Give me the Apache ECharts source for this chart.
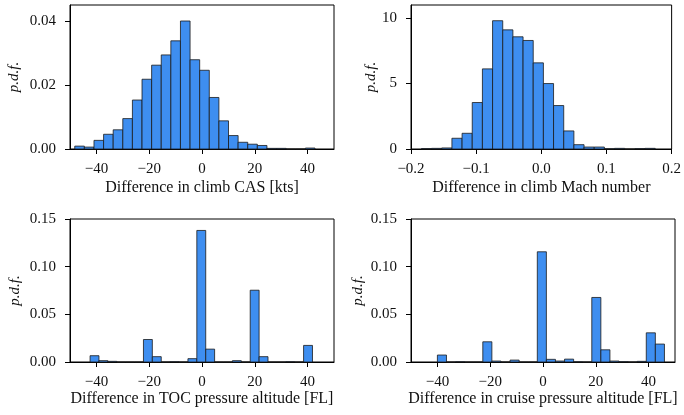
<!DOCTYPE html>
<html>
<head>
<meta charset="utf-8">
<script src="https://cdn.jsdelivr.net/npm/echarts@6/dist/echarts.min.js"></script>
<style>
  html, body { margin: 0; padding: 0; background: #fff; }
  #main { width: 684px; height: 415px; }
</style>
</head>
<body>
<div id="main"></div>
<script>
// histogram bins: first edge, bin width, density per bin
var casStart = -48.2, casWidth = 3.64;
var casVals = [0.0009, 0.0006, 0.0027, 0.0046, 0.006, 0.0095, 0.0153, 0.0218, 0.0262, 0.0294,
  0.0338, 0.040, 0.0279, 0.0246, 0.0161, 0.0088, 0.0042, 0.0021, 0.0015, 0.0011,
  0.0002, 0.0002, 0, 0, 0.0003];

var machStart = -0.184, machWidth = 0.0156;
var machVals = [0.03, 0.05, 0.08, 0.82, 1.2, 3.55, 6.12, 9.8, 9.1, 8.57, 8.29, 6.58,
  5.0, 3.32, 1.38, 0.33, 0.15, 0.15, 0.02, 0.05, 0, 0.03, 0.05];

var tocStart = -42.4, tocWidth = 3.37;
var tocVals = [0.0066, 0.0014, 0.0007, 0, 0, 0, 0.0236, 0.0056, 0, 0.0003, 0, 0.0035,
  0.138, 0.0135, 0, 0, 0.0014, 0, 0.0753, 0.0056, 0, 0, 0.0003, 0, 0.0174];

var cruiseStart = -40, cruiseWidth = 3.44;
var cruiseVals = [0.0073, 0, 0.0003, 0, 0, 0.0212, 0.001, 0, 0.002, 0, 0, 0.1156,
  0.0028, 0.001, 0.003, 0.0002, 0, 0.0677, 0.0128, 0.001, 0.0003, 0, 0.0007, 0.0306, 0.0188];

var ftTicks = [-40, -20, 0, 20, 40];
var machTicks = [-0.2, -0.1, 0.0, 0.1, 0.2];
var casY = [0, 0.02, 0.04];
var machY = [0, 5, 10];
var altY = [0, 0.05, 0.10, 0.15];

var xNames = ['Difference in climb CAS [kts]', 'Difference in climb Mach number',
  'Difference in TOC pressure altitude [FL]', 'Difference in cruise pressure altitude [FL]'];

var font = 'Liberation Serif';

function bins(start, width, vals) {
  return vals.map(function (v, i) {
    return [start + i * width, start + (i + 1) * width, v];
  });
}

function minus(s) { return s.replace('-', '\u2212'); }

var grids = [
  { left: 70, top: 5, width: 264, height: 144 },
  { left: 411, top: 5, width: 264, height: 144 },
  { left: 70, top: 219, width: 264, height: 143 },
  { left: 411, top: 219, width: 264, height: 143 }
];

var myChart = echarts.init(document.getElementById('main'));

var xAxes = [], yAxes = [], series = [];
var panels = [
  { data: bins(casStart, casWidth, casVals), xmin: -50, xmax: 50, xt: ftTicks, ymax: 0.045, yt: casY, yd: 2, xd: 0, gap: 48, xgap: 31 },
  { data: bins(machStart, machWidth, machVals), xmin: -0.2, xmax: 0.2, xt: machTicks, ymax: 11, yt: machY, yd: 0, xd: 1, gap: 32, xgap: 31 },
  { data: bins(tocStart, tocWidth, tocVals), xmin: -50, xmax: 50, xt: ftTicks, ymax: 0.15, yt: altY, yd: 2, xd: 0, gap: 47, xgap: 27 },
  { data: bins(cruiseStart, cruiseWidth, cruiseVals), xmin: -50, xmax: 50, xt: ftTicks, ymax: 0.15, yt: altY, yd: 2, xd: 0, gap: 45, xgap: 27 }
];

panels.forEach(function (p, i) {
  xAxes.push({
    type: 'value', gridIndex: i, min: p.xmin, max: p.xmax,
    name: xNames[i], nameLocation: 'middle', nameGap: p.xgap,
    nameTextStyle: { fontFamily: font, fontSize: 16, color: '#111' },
    axisLine: { show: true, onZero: false, lineStyle: { color: '#000', width: 1 } },
    axisTick: { show: true, inside: false, length: 5, customValues: p.xt, lineStyle: { color: '#000' } },
    axisLabel: {
      customValues: p.xt, margin: 13, fontFamily: font, fontSize: 15, color: '#111',
      formatter: (function (d) { return function (v) { return minus(v.toFixed(d)); }; })(p.xd)
    },
    splitLine: { show: false }
  });
  yAxes.push({
    type: 'value', gridIndex: i, min: 0, max: p.ymax,
    name: 'p.d.f.', nameLocation: 'middle', nameGap: p.gap, nameRotate: 90,
    nameTextStyle: { fontFamily: font, fontSize: 15, fontStyle: 'italic', color: '#111' },
    axisLine: { show: true, onZero: false, lineStyle: { color: '#000', width: 1 } },
    axisTick: { show: true, inside: false, length: 5, customValues: p.yt, lineStyle: { color: '#000' } },
    axisLabel: {
      customValues: p.yt, margin: 14, fontFamily: font, fontSize: 15, color: '#111',
      formatter: (function (d) { return function (v) { return v.toFixed(d); }; })(p.yd)
    },
    splitLine: { show: false }
  });
  series.push({
    type: 'custom', xAxisIndex: i, yAxisIndex: i,
    encode: { x: [0, 1], y: 2 },
    renderItem: function (params, api) {
      var a = api.coord([api.value(0), api.value(2)]);
      var b = api.coord([api.value(1), 0]);
      return {
        type: 'rect',
        shape: { x: a[0], y: a[1], width: b[0] - a[0], height: b[1] - a[1] },
        style: { fill: '#3e8ef0', stroke: '#1a1a1a', lineWidth: 0.8 }
      };
    },
    data: p.data
  });
});

var option = {
  animation: false,
  grid: grids.map(function (g) {
    return Object.assign({ show: true, borderColor: '#000', borderWidth: 1, backgroundColor: 'transparent' }, g);
  }),
  xAxis: xAxes,
  yAxis: yAxes,
  series: series
};

option && myChart.setOption(option);
</script>
</body>
</html>
